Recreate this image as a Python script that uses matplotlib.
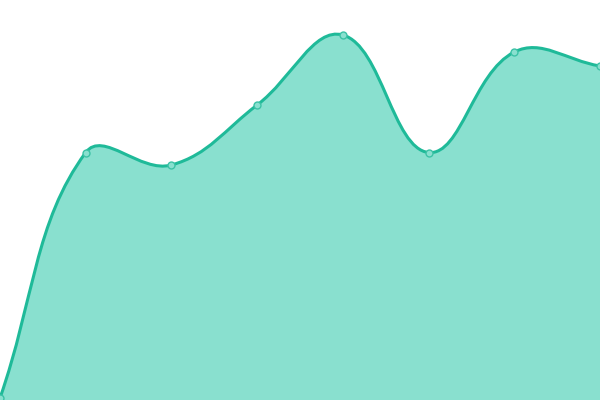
import numpy as np
import matplotlib
matplotlib.use("Agg")
import matplotlib.pyplot as plt
from matplotlib.path import Path
from matplotlib.patches import PathPatch

categories = [0, 1, 2, 3, 4, 5, 6, 7]
values = [2, 247.5, 235, 295, 365, 247.5, 348, 334]

LINE = "#1fba99"
FILL = "#89e0cf"
TENSION = 0.4

fig = plt.figure(figsize=(6, 4), dpi=100)
ax = fig.add_axes([0, 0, 1, 1])
ax.set_xlim(0, 7)
ax.set_ylim(0, 400)
ax.axis("off")

# work in display space (like a canvas spline), then convert back
pts = ax.transData.transform(np.column_stack([categories, values]))
n = len(pts)
ctrl_prev = np.zeros_like(pts)
ctrl_next = np.zeros_like(pts)
for i in range(n):
    p = pts[i]
    pr = pts[i - 1] if i > 0 else p
    nx = pts[i + 1] if i < n - 1 else p
    d01 = np.hypot(*(p - pr))
    d12 = np.hypot(*(nx - p))
    s = d01 + d12
    fa = TENSION * d01 / s if s else 0
    fb = TENSION * d12 / s if s else 0
    ctrl_prev[i] = p - fa * (nx - pr)
    ctrl_next[i] = p + fb * (nx - pr)

verts = [pts[0]]
codes = [Path.MOVETO]
for i in range(n - 1):
    verts += [ctrl_next[i], ctrl_prev[i + 1], pts[i + 1]]
    codes += [Path.CURVE4] * 3
inv = ax.transData.inverted()
verts_d = inv.transform(np.array(verts))

line_path = Path(verts_d, codes)
fill_verts = list(verts_d) + [[categories[-1], 0], [categories[0], 0], verts_d[0]]
fill_codes = codes + [Path.LINETO, Path.LINETO, Path.CLOSEPOLY]
ax.add_patch(PathPatch(Path(fill_verts, fill_codes), facecolor=FILL, edgecolor="none"))
ax.add_patch(PathPatch(line_path, facecolor="none", edgecolor=LINE, lw=2.2))
ax.plot(categories, values, "o", ms=5, mfc=FILL, mec="#3cc2a6", mew=1, clip_on=False, zorder=5)
fig.savefig("out.png", dpi=100)
